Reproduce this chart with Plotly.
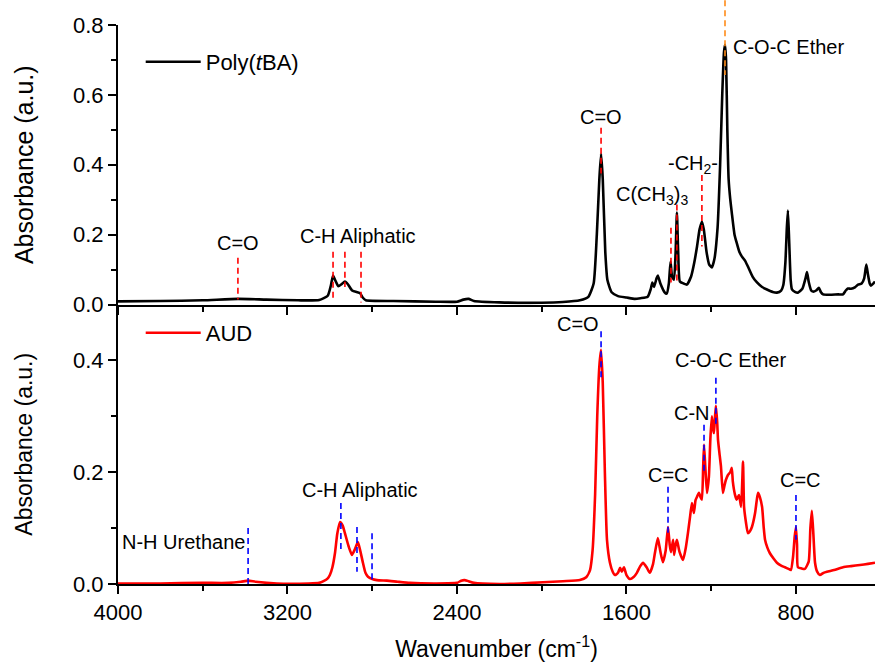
import plotly.graph_objects as go

# ---- Poly(tBA) spectrum (wavenumber in cm-1, absorbance in a.u.) ----
tba_wn = [4000, 3800, 3600, 3434, 3300, 3150, 3050, 3010, 2995, 2985, 2975, 2960, 2945,
          2929, 2915, 2895, 2870, 2858, 2845, 2830, 2700, 2500, 2400, 2370, 2345, 2320,
          2200, 2000, 1900, 1820, 1780, 1755, 1740, 1728, 1720, 1712, 1700, 1690, 1670,
          1640, 1600, 1560, 1534, 1500, 1485, 1478, 1470, 1458, 1452, 1440, 1420, 1410,
          1400, 1392, 1385, 1376, 1368, 1362, 1356, 1348, 1330, 1315, 1295, 1280, 1267,
          1255, 1244, 1235, 1222, 1210, 1197, 1185, 1170, 1158, 1148, 1140, 1135, 1130,
          1124, 1118, 1110, 1103, 1090, 1080, 1067, 1055, 1040, 1027, 1005, 984, 960,
          937, 910, 890, 870, 860, 850, 843, 838, 832, 825, 819, 805, 791, 770, 755, 748,
          740, 728, 720, 705, 692, 682, 672, 640, 600, 578, 565, 555, 540, 520, 507, 490,
          478, 468, 460, 452, 446, 435, 427]
tba_abs = [0.009, 0.010, 0.012, 0.016, 0.014, 0.012, 0.013, 0.025, 0.055, 0.083, 0.070,
           0.052, 0.058, 0.066, 0.058, 0.040, 0.035, 0.033, 0.020, 0.012, 0.010, 0.008,
           0.008, 0.014, 0.016, 0.010, 0.006, 0.005, 0.007, 0.012, 0.022, 0.060, 0.200,
           0.360, 0.431, 0.360, 0.150, 0.070, 0.035, 0.024, 0.020, 0.016, 0.018, 0.022,
           0.045, 0.063, 0.050, 0.075, 0.083, 0.060, 0.035, 0.031, 0.060, 0.123, 0.080,
           0.071, 0.150, 0.263, 0.150, 0.066, 0.060, 0.057, 0.080, 0.120, 0.166, 0.215,
           0.237, 0.215, 0.150, 0.115, 0.106, 0.130, 0.220, 0.400, 0.600, 0.720, 0.743,
           0.700, 0.500, 0.360, 0.300, 0.263, 0.200, 0.177, 0.150, 0.137, 0.125, 0.109,
           0.080, 0.063, 0.050, 0.043, 0.036, 0.034, 0.040, 0.055, 0.120, 0.220, 0.269,
           0.180, 0.070, 0.043, 0.036, 0.034, 0.045, 0.075, 0.093, 0.065, 0.040, 0.037,
           0.040, 0.048, 0.035, 0.029, 0.028, 0.029, 0.029, 0.040, 0.046, 0.045, 0.050,
           0.057, 0.060, 0.075, 0.114, 0.085, 0.060, 0.054, 0.060, 0.066]

# ---- AUD spectrum ----
aud_wn = [4000, 3800, 3600, 3480, 3420, 3386, 3350, 3250, 3100, 3050, 3030, 3010, 3000,
          2988, 2976, 2965, 2952, 2940, 2929, 2912, 2896, 2882, 2868, 2858, 2844, 2832,
          2820, 2800, 2778, 2731, 2680, 2622, 2500, 2400, 2380, 2365, 2345, 2320, 2200,
          2100, 1994, 1900, 1820, 1790, 1772, 1760, 1748, 1738, 1728, 1720, 1712, 1702,
          1692, 1678, 1665, 1654, 1640, 1630, 1622, 1612, 1600, 1584, 1565, 1551, 1535,
          1522, 1505, 1490, 1475, 1466, 1452, 1440, 1428, 1415, 1404, 1396, 1390, 1380,
          1375, 1368, 1362, 1350, 1333, 1320, 1310, 1300, 1291, 1282, 1274, 1267, 1258,
          1250, 1244, 1238, 1234, 1228, 1220, 1211, 1204, 1197, 1190, 1187, 1182, 1178,
          1172, 1168, 1160, 1154, 1145, 1138, 1131, 1121, 1110, 1103, 1098, 1088, 1080,
          1069, 1059, 1050, 1045, 1036, 1027, 1018, 1008, 993, 985, 979, 970, 960, 952,
          946, 935, 923, 905, 890, 870, 852, 835, 824, 814, 806, 800, 795, 791, 775, 758,
          740, 732, 725, 718, 710, 700, 687, 670, 654, 620, 578, 540, 498, 460, 427]
aud_abs = [0.001, 0.001, 0.002, 0.002, 0.004, 0.006, 0.004, 0.001, 0.001, 0.002, 0.005,
           0.010, 0.016, 0.030, 0.055, 0.090, 0.111, 0.105, 0.091, 0.068, 0.052, 0.062,
           0.075, 0.062, 0.038, 0.020, 0.013, 0.009, 0.007, 0.006, 0.004, 0.002, 0.001,
           0.002, 0.006, 0.007, 0.005, 0.002, 0.000, 0.001, 0.003, 0.005, 0.007, 0.012,
           0.025, 0.060, 0.160, 0.300, 0.390, 0.419, 0.360, 0.200, 0.079, 0.038, 0.022,
           0.016, 0.020, 0.029, 0.022, 0.030, 0.016, 0.009, 0.013, 0.020, 0.032, 0.038,
           0.030, 0.020, 0.035, 0.055, 0.082, 0.058, 0.039, 0.060, 0.102, 0.070, 0.057,
           0.079, 0.052, 0.070, 0.079, 0.058, 0.043, 0.065, 0.091, 0.120, 0.145, 0.127,
           0.150, 0.156, 0.163, 0.155, 0.151, 0.210, 0.249, 0.210, 0.163, 0.192, 0.260,
           0.300, 0.275, 0.270, 0.300, 0.319, 0.290, 0.258, 0.230, 0.210, 0.163, 0.175,
           0.186, 0.195, 0.200, 0.208, 0.183, 0.160, 0.151, 0.159, 0.138, 0.219, 0.138,
           0.110, 0.091, 0.094, 0.102, 0.127, 0.150, 0.163, 0.155, 0.138, 0.100, 0.079,
           0.065, 0.055, 0.045, 0.038, 0.033, 0.030, 0.027, 0.025, 0.048, 0.085, 0.102,
           0.070, 0.030, 0.028, 0.027, 0.040, 0.100, 0.131, 0.090, 0.038, 0.022, 0.016,
           0.020, 0.022, 0.025, 0.030, 0.032, 0.034, 0.036, 0.038]

# ---- band assignments: (label, label wavenumber, label height) ----
tba_labels = [("C=O", 3434, 0.177), ("C-H Aliphatic", 2867, 0.197), ("C=O", 1720, 0.537),
              ("C(CH<sub>3</sub>)<sub>3</sub>", 1480, 0.312), ("-CH<sub>2</sub>-", 1286, 0.400),
              ("C-O-C Ether", 833, 0.737)]
aud_labels = [("N-H Urethane", 3693, 0.075), ("C-H Aliphatic", 2858, 0.168),
              ("C=O", 1829, 0.466), ("C=C", 1404, 0.195), ("C-N", 1291, 0.306),
              ("C-O-C Ether", 1111, 0.401), ("C=C", 781, 0.186)]

# ---- band marker lines: (wavenumber, from, to, colour) ----
tba_marks = [(3434, 0.134, 0.014, "#ff0000"), (2985, 0.151, 0.014, "#ff0000"),
             (2929, 0.151, 0.050, "#ff0000"), (2853, 0.151, 0.006, "#ff0000"),
             (1720, 0.506, 0.375, "#ff0000"), (1390, 0.220, 0.063, "#ff0000"),
             (1362, 0.286, 0.063, "#ff0000"), (1244, 0.371, 0.166, "#ff0000"),
             (1135, 0.871, 0.657, "#ff8c1a")]
aud_marks = [(3386, 0.100, 0.000), (2948, 0.145, 0.061), (2872, 0.102, 0.022),
             (2801, 0.091, 0.007), (1720, 0.452, 0.369), (1404, 0.174, 0.091),
             (1234, 0.285, 0.200), (1178, 0.369, 0.281), (800, 0.159, 0.079)]

X_RANGE = [4000, 427]
TOP_MAX = 0.8
BOT_MAX = 0.5
FONT = "Liberation Sans, Arial, sans-serif"
LABEL_SIZE = 20

fig = go.Figure()
fig.add_trace(go.Scatter(x=tba_wn, y=tba_abs, mode="lines", name="Poly(<i>t</i>BA)",
                         line=dict(color="#000000", width=2.6, shape="spline",
                                   smoothing=0.5),
                         xaxis="x2", yaxis="y2", showlegend=True, legend="legend"))
fig.add_trace(go.Scatter(x=aud_wn, y=aud_abs, mode="lines", name="AUD",
                         line=dict(color="#ff0000", width=2.6, shape="spline",
                                   smoothing=0.5),
                         xaxis="x", yaxis="y", showlegend=True, legend="legend2"))

# dashed band markers (domain-relative in y so they may run past the frame top)
for wn, y0, y1, col in tba_marks:
    fig.add_shape(type="line", xref="x2", yref="y2 domain", x0=wn, x1=wn,
                  y0=y0 / TOP_MAX, y1=y1 / TOP_MAX,
                  line=dict(color=col, width=1.6, dash="6px,4px"))
for wn, y0, y1 in aud_marks:
    fig.add_shape(type="line", xref="x", yref="y domain", x0=wn, x1=wn,
                  y0=y0 / BOT_MAX, y1=y1 / BOT_MAX,
                  line=dict(color="#0000ff", width=1.6, dash="6px,4px"))

for text, wn, yv in tba_labels:
    fig.add_annotation(x=wn, y=yv, xref="x2", yref="y2", text=text, showarrow=False,
                       font=dict(family=FONT, size=LABEL_SIZE, color="#000000"),
                       xanchor="center", yanchor="middle")
for text, wn, yv in aud_labels:
    fig.add_annotation(x=wn, y=yv, xref="x", yref="y", text=text, showarrow=False,
                       font=dict(family=FONT, size=LABEL_SIZE, color="#000000"),
                       xanchor="center", yanchor="middle")

tick_font = dict(family=FONT, size=22, color="#000000")
common_x = dict(range=X_RANGE, showline=True, linecolor="#000000", linewidth=2,
                tickcolor="#000000", tickwidth=1.5, showgrid=False, zeroline=False,
                tickmode="array", tickvals=[4000, 3200, 2400, 1600, 800])
legend_style = dict(xanchor="left", yanchor="middle", bgcolor="rgba(0,0,0,0)",
                    itemwidth=55, font=dict(family=FONT, size=22, color="#000000"))

fig.update_layout(
    width=875, height=664,
    margin=dict(l=118, r=0, t=25, b=80),
    paper_bgcolor="#ffffff", plot_bgcolor="#ffffff",
    font=dict(family=FONT, color="#000000"),
    showlegend=True,
    xaxis=dict(**common_x, anchor="y", ticks="outside", ticklen=8,
               minor=dict(ticks="outside", ticklen=5, dtick=400, tick0=0,
                          tickcolor="#000000", tickwidth=1.5),
               ticktext=["4000", "3200", "2400", "1600", "800"], tickfont=tick_font,
               title=dict(text="Wavenumber (cm<sup>-1</sup>)",
                          font=dict(family=FONT, size=23), standoff=16)),
    xaxis2=dict(**common_x, anchor="y2", matches="x", ticks="outside", ticklen=8,
                showticklabels=False,
                minor=dict(ticks="outside", ticklen=5, dtick=400, tick0=0,
                           tickcolor="#000000", tickwidth=1.5)),
    xaxis3=dict(**common_x, anchor="y2", overlaying="x2", side="top", matches="x",
                ticks="inside", ticklen=8, showticklabels=False,
                minor=dict(ticks="inside", ticklen=5, dtick=400, tick0=0,
                           tickcolor="#000000", tickwidth=1.5)),
    yaxis=dict(domain=[0, 0.5], range=[0, BOT_MAX], showline=True, linecolor="#000000",
               linewidth=2, ticks="outside", ticklen=8, tickcolor="#000000", tickwidth=1.5,
               tickvals=[0, 0.2, 0.4], tickformat=".1f", tickfont=tick_font,
               minor=dict(ticks="outside", ticklen=5, dtick=0.1, tick0=0,
                          tickcolor="#000000", tickwidth=1.5),
               showgrid=False, zeroline=False,
               title=dict(text="Absorbance (a.u.)", font=dict(family=FONT, size=23),
                          standoff=34)),
    yaxis2=dict(domain=[0.5, 1], range=[0, TOP_MAX], anchor="x2", showline=True,
                linecolor="#000000", linewidth=2, ticks="outside", ticklen=8,
                tickcolor="#000000", tickwidth=1.5, dtick=0.2, tick0=0, tickformat=".1f",
                tickfont=tick_font,
                minor=dict(ticks="outside", ticklen=5, dtick=0.1, tick0=0,
                           tickcolor="#000000", tickwidth=1.5),
                showgrid=False, zeroline=False,
                title=dict(text="Absorbance (a.u.)", font=dict(family=FONT, size=25),
                           standoff=32)),
    legend=dict(x=0.03, y=0.934, **legend_style),
    legend2=dict(x=0.03, y=0.449, **legend_style),
)

fig.write_html("out.html")
